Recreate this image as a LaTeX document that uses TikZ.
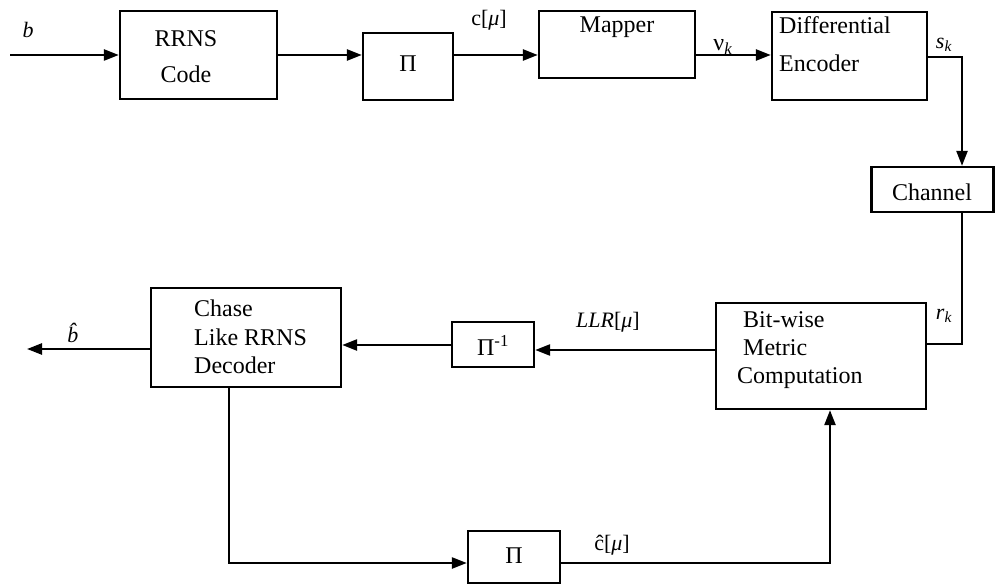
\documentclass[tikz,border=0pt]{standalone}
\usepackage{fontspec}
\setmainfont{Liberation Serif}
\usetikzlibrary{arrows.meta}
\begin{document}
\begin{tikzpicture}[x=1pt,y=-1pt,
  box/.style={draw, line width=2.3pt, inner sep=0pt},
  txt/.style={font=\fontsize{24}{28}\selectfont, inner sep=0pt},
  lbl/.style={font=\fontsize{22}{26}\selectfont, inner sep=0pt},
  wire/.style={line width=2.4pt},
  arr/.style={wire, -{Triangle[length=15pt,width=11pt]}}]
\useasboundingbox[fill=white] (0,0) rectangle (995,585);
% boxes
\node[box, minimum width=157pt, minimum height=88pt] (rrns) at (198.5,55) {};
\node[box, minimum width=90pt, minimum height=67pt] (pi1) at (408,66.5) {};
\node[box, minimum width=156pt, minimum height=67pt] (mapper) at (617,44.5) {};
\node[box, minimum width=155pt, minimum height=88pt] (diff) at (849.5,56) {};
\node[box, minimum width=122pt, minimum height=45pt] (chan) at (932.5,189.5) {};
\node[box, minimum width=210pt, minimum height=106pt] (bit) at (821,356) {};
\node[box, minimum width=82pt, minimum height=45pt] (piinv) at (493,344.5) {};
\node[box, minimum width=190pt, minimum height=99pt] (chase) at (246,337.5) {};
\node[box, minimum width=92pt, minimum height=52pt] (pi2) at (514,557) {};
% box texts
\node[txt, align=center, font=\fontsize{24}{36}\selectfont] (rrnst) at (186,57) {RRNS\\Code};
\node[txt] (pi1t) at (408,64) {Π};
\node[txt] (mappert) at (617,27) {Mapper};
\node[txt, align=left, anchor=west, font=\fontsize{24}{38}\selectfont] (difft) at (779,44) {Differential\\Encoder};
\node[txt] (chant) at (932,192) {Channel};
\node[txt, align=left, anchor=west, font=\fontsize{24}{28}\selectfont] (bitt) at (737,350) {\hspace{6pt}Bit-wise\\\hspace{6pt}Metric\\Computation};
\node[txt] (piinvt) at (493,345) {Π\textsuperscript{-1}};
\node[txt, align=left, anchor=west, font=\fontsize{24}{28.5}\selectfont] (chaset) at (194,337) {Chase\\Like RRNS\\Decoder};
\node[txt] (pi2t) at (514,556) {Π};
% connectors
\coordinate (start) at (10,55);
\draw[arr] (start) -- (rrns.west);
\draw[arr] (rrns.east) -- (pi1.west |- rrns.east);
\draw[arr] (pi1.east |- rrns.east) -- (mapper.west |- rrns.east);
\draw[arr] (mapper.east |- rrns.east) -- (diff.west |- rrns.east);
\coordinate (dturn) at (962,57);
\draw[arr] (diff.east |- dturn) -- (dturn) -- (chan.north -| dturn);
\coordinate (cturn) at (962,344);
\draw[wire] (chan.south -| cturn) -- (cturn) -- (bit.east |- cturn);
\coordinate (lly) at (0,350);
\draw[arr] (bit.west |- lly) -- (piinv.east |- lly);
\coordinate (chy) at (0,345);
\draw[arr] (piinv.west |- chy) -- (chase.east |- chy);
\coordinate (bout) at (27,349);
\draw[arr] (chase.west |- bout) -- (bout);
\coordinate (lturn) at (229,563);
\draw[arr] (chase.south -| lturn) -- (lturn) -- (pi2.west |- lturn);
\coordinate (rturn) at (830,563);
\draw[arr] (pi2.east |- rturn) -- (rturn) -- (bit.south -| rturn);
% labels
\node[lbl] (lb) at (28,30) {\textit{b}};
\node[lbl] (lc) at (489,20) {c[\textit{μ}]};
\node[lbl, font=\fontsize{24}{28}\selectfont] (lv) at (723,47) {ν\textsubscript{\textit{k}}};
\node[lbl] (ls) at (944,45) {\textit{s}\textsubscript{\textit{k}}};
\node[lbl] (lr) at (944,316) {\textit{r}\textsubscript{\textit{k}}};
\node[lbl] (lllr) at (608,322) {\textit{LLR}[\textit{μ}]};
\node[lbl] (lbh) at (77,333) {\textit{\^{b}}};
\node[lbl] (lch) at (612,545) {ĉ[\textit{μ}]};
\end{tikzpicture}
\end{document}
